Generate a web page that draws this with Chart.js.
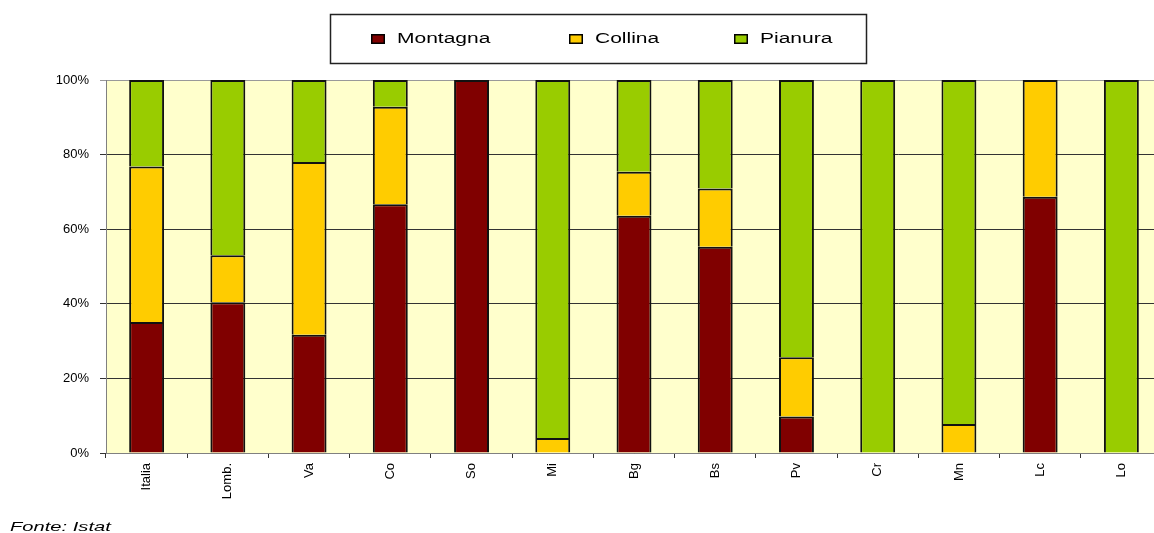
<!DOCTYPE html>
<html>
<head>
<meta charset="utf-8">
<script src="https://cdn.jsdelivr.net/npm/chart.js@4"></script>
<style>
  html, body { margin: 0; padding: 0; background: #ffffff; overflow: hidden; }
  #clip { width: 1154px; height: 533px; overflow: hidden; position: relative; }
  #wrap { width: 1170px; height: 533px; position: absolute; left: 0; top: 0; }
</style>
</head>
<body>
<div id="clip"><div id="wrap"><canvas id="c"></canvas></div></div>
<script>
const categories = ['Italia', 'Lomb.', 'Va', 'Co', 'So', 'Mi', 'Bg', 'Bs', 'Pv', 'Cr', 'Mn', 'Lc', 'Lo'];
const seriesNames = ['Montagna', 'Collina', 'Pianura'];
const montagna = [35.1, 40.4, 31.7, 66.7, 100, 0, 63.6, 55.3, 9.8, 0, 0, 68.7, 0];
const collina  = [41.7, 12.6, 46.3, 26.1, 0, 4.0, 11.8, 15.6, 15.9, 0, 7.8, 31.3, 0];
const pianura  = [23.2, 47.0, 22.0, 7.2, 0, 96.0, 24.6, 29.1, 74.3, 100, 92.2, 0, 100];
const yTicks = [0, 20, 40, 60, 80, 100];
const sourceNote = 'Fonte: Istat';

const colors = ['#800000', '#FFCC00', '#99CC00'];
const FONT = '"Liberation Sans", Arial, sans-serif';

const plotBg = {
  id: 'plotBg',
  beforeDraw(chart) {
    const a = chart.chartArea, ctx = chart.ctx;
    ctx.save();
    ctx.fillStyle = '#FFFFCC';
    ctx.fillRect(a.left, a.top, a.right - a.left, a.bottom - a.top);
    ctx.restore();
  }
};

// Legend in a framed box (text drawn with a horizontal stretch like the original)
const boxLegend = {
  id: 'boxLegend',
  afterDraw(chart, args, opts) {
    const ctx = chart.ctx;
    ctx.save();
    ctx.strokeStyle = '#222';
    ctx.lineWidth = 1.5;
    ctx.strokeRect(opts.left, opts.top, opts.width, opts.height);
    const cy = opts.top + opts.height / 2;
    ctx.font = opts.fontSize + 'px ' + FONT;
    ctx.textBaseline = 'middle';
    ctx.textAlign = 'left';
    chart.data.datasets.forEach((ds, i) => {
      const x = opts.itemX[i];
      ctx.fillStyle = ds.backgroundColor;
      ctx.fillRect(x, cy - 5, 14, 10);
      ctx.strokeStyle = '#000';
      ctx.lineWidth = 1.5;
      ctx.strokeRect(x + 0.75, cy - 5 + 0.75, 12.5, 8.5);
      ctx.save();
      ctx.translate(x + 26, cy);
      ctx.scale(opts.stretch, 1);
      ctx.fillStyle = '#000';
      ctx.fillText(ds.label, 0, 0);
      ctx.restore();
    });
    ctx.restore();
  }
};

const note = {
  id: 'note',
  afterDraw(chart, args, opts) {
    const ctx = chart.ctx;
    ctx.save();
    ctx.font = 'italic ' + opts.fontSize + 'px ' + FONT;
    ctx.textBaseline = 'alphabetic';
    ctx.textAlign = 'left';
    ctx.fillStyle = '#000';
    ctx.translate(opts.x, opts.y);
    ctx.scale(opts.stretch, 1);
    ctx.fillText(opts.text, 0, 0);
    ctx.restore();
  }
};

const datasets = [montagna, collina, pianura].map((vals, i) => ({
  label: seriesNames[i],
  data: vals,
  backgroundColor: colors[i],
  borderColor: '#111111',
  borderWidth: 2,
  borderSkipped: 'start',
  inflateAmount: 0,
  barPercentage: 0.43,
  categoryPercentage: 1.0
}));

new Chart(document.getElementById('c'), {
  type: 'bar',
  data: { labels: categories, datasets },
  plugins: [plotBg, boxLegend, note],
  options: {
    responsive: true,
    maintainAspectRatio: false,
    animation: false,
    layout: { padding: { left: 10, right: 8, top: 80, bottom: 16 } },
    plugins: {
      legend: { display: false },
      title: { display: false },
      tooltip: { enabled: false },
      boxLegend: { left: 330.5, top: 14.5, width: 536, height: 49, fontSize: 14, stretch: 1.5, itemX: [371, 569, 734] },
      note: { text: sourceNote, x: 10, y: 531, fontSize: 13, stretch: 1.55 }
    },
    scales: {
      x: {
        stacked: true,
        afterFit(scale) { scale.height = 64; },
        grid: { display: true, drawOnChartArea: false, drawTicks: true, tickLength: 5, color: '#333', offset: true },
        border: { display: true, color: '#808080', width: 1 },
        ticks: {
          autoSkip: false, maxRotation: 90, minRotation: 90, padding: 5,
          color: '#000', font: { family: FONT, size: 13 }
        }
      },
      y: {
        stacked: true,
        min: 0, max: 100,
        afterFit(scale) { scale.width = 96; },
        afterBuildTicks(scale) { scale.ticks = yTicks.map(v => ({ value: v })); },
        grid: {
          color: ctx => (ctx.tick && ctx.tick.value === 100) ? '#999999' : '#333333',
          lineWidth: 1, tickLength: 6, drawTicks: true
        },
        border: { display: true, color: '#808080', width: 1 },
        ticks: {
          padding: 11, color: '#000',
          font: { family: FONT, size: 13 },
          callback: v => v + '%'
        }
      }
    }
  }
});
</script>
</body>
</html>
